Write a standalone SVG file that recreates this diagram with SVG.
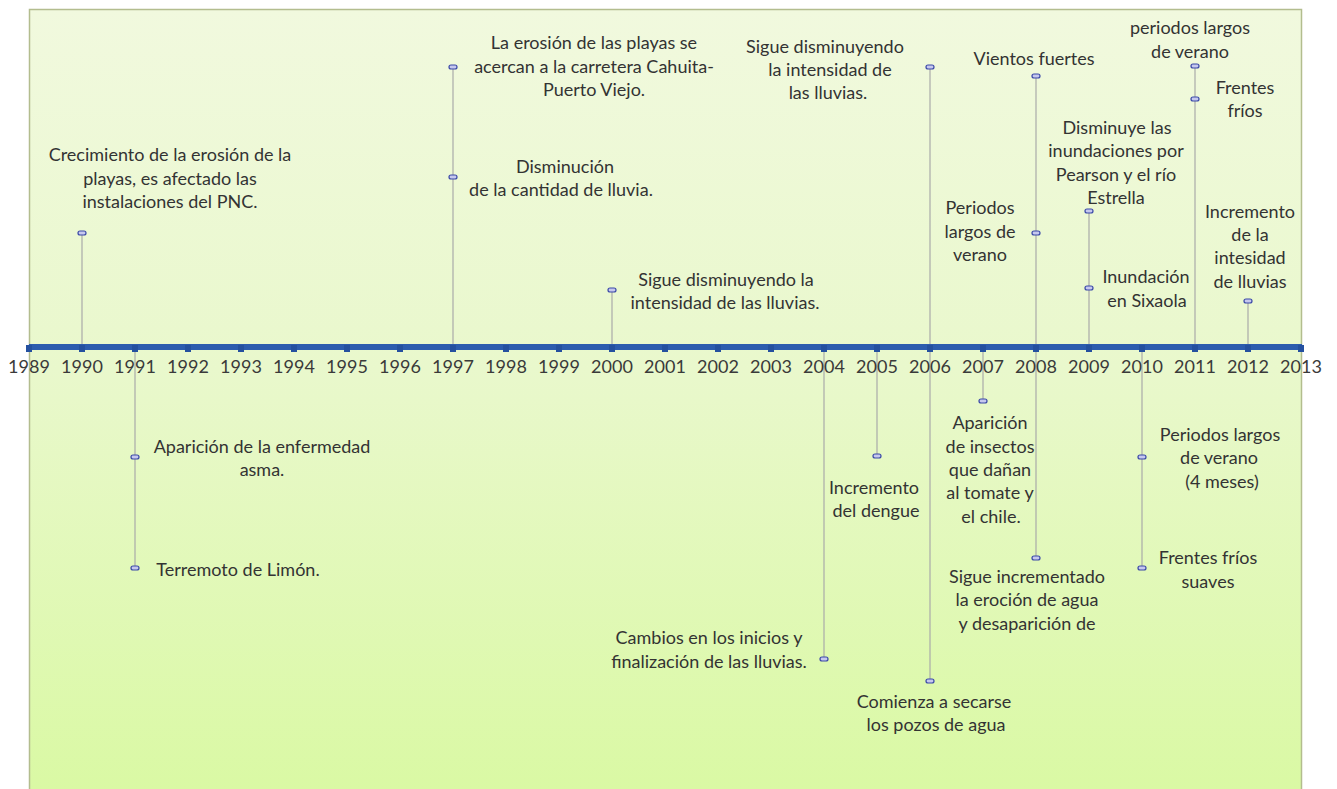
<svg xmlns="http://www.w3.org/2000/svg" width="1337" height="789" viewBox="0 0 1337 789">
<defs>
<linearGradient id="bg" x1="0" y1="0" x2="0" y2="1">
<stop offset="0" stop-color="#f1f9de"/>
<stop offset="0.45" stop-color="#e9f8cc"/>
<stop offset="1" stop-color="#d9f9a2"/>
</linearGradient>
<style>
text{font-family:Lato,"Liberation Sans",sans-serif;fill:#333333;}
.t{font-size:18px;text-anchor:middle;}
.y{font-size:18px;text-anchor:middle;fill:#3a3a3a;}
.mk{fill:#c6c8ee;stroke:#3a48a8;stroke-width:1.2;}
.ln{stroke:#a9aaa9;stroke-width:1.2;fill:none;}
.tk{fill:#24509f;}
</style>
</defs>
<rect x="0" y="0" width="1337" height="789" fill="#ffffff"/>
<rect x="29.5" y="9.5" width="1272" height="800" fill="url(#bg)" stroke="#b3bd8e" stroke-width="1.5"/>

<g id="connectors">
<line class="ln" x1="82" y1="233" x2="82" y2="347"/>
<line class="ln" x1="135" y1="347" x2="135" y2="568"/>
<line class="ln" x1="453" y1="67" x2="453" y2="347"/>
<line class="ln" x1="612" y1="290" x2="612" y2="347"/>
<line class="ln" x1="824" y1="347" x2="824" y2="659"/>
<line class="ln" x1="877" y1="347" x2="877" y2="456"/>
<line class="ln" x1="930" y1="67" x2="930" y2="681"/>
<line class="ln" x1="983" y1="347" x2="983" y2="401"/>
<line class="ln" x1="1036" y1="76" x2="1036" y2="558"/>
<line class="ln" x1="1089" y1="211" x2="1089" y2="347"/>
<line class="ln" x1="1142" y1="347" x2="1142" y2="568"/>
<line class="ln" x1="1195" y1="66" x2="1195" y2="347"/>
<line class="ln" x1="1248" y1="301" x2="1248" y2="347"/>
</g>

<g id="axis">
<rect x="29" y="344" width="1273" height="6" fill="#2c5cae"/>
<g class="tk">
<rect x="26" y="345" width="6" height="7"/><rect x="79" y="345" width="6" height="7"/><rect x="132" y="345" width="6" height="7"/><rect x="185" y="345" width="6" height="7"/><rect x="238" y="345" width="6" height="7"/><rect x="291" y="345" width="6" height="7"/><rect x="344" y="345" width="6" height="7"/><rect x="397" y="345" width="6" height="7"/><rect x="450" y="345" width="6" height="7"/><rect x="503" y="345" width="6" height="7"/><rect x="556" y="345" width="6" height="7"/><rect x="609" y="345" width="6" height="7"/><rect x="662" y="345" width="6" height="7"/><rect x="715" y="345" width="6" height="7"/><rect x="768" y="345" width="6" height="7"/><rect x="821" y="345" width="6" height="7"/><rect x="874" y="345" width="6" height="7"/><rect x="927" y="345" width="6" height="7"/><rect x="980" y="345" width="6" height="7"/><rect x="1033" y="345" width="6" height="7"/><rect x="1086" y="345" width="6" height="7"/><rect x="1139" y="345" width="6" height="7"/><rect x="1192" y="345" width="6" height="7"/><rect x="1245" y="345" width="6" height="7"/><rect x="1298" y="345" width="6" height="7"/>
</g>
<text class="y" x="29" y="373">1989</text><text class="y" x="82" y="373">1990</text><text class="y" x="135" y="373">1991</text><text class="y" x="188" y="373">1992</text><text class="y" x="241" y="373">1993</text><text class="y" x="294" y="373">1994</text><text class="y" x="347" y="373">1995</text><text class="y" x="400" y="373">1996</text><text class="y" x="453" y="373">1997</text><text class="y" x="506" y="373">1998</text><text class="y" x="559" y="373">1999</text><text class="y" x="612" y="373">2000</text><text class="y" x="665" y="373">2001</text><text class="y" x="718" y="373">2002</text><text class="y" x="771" y="373">2003</text><text class="y" x="824" y="373">2004</text><text class="y" x="877" y="373">2005</text><text class="y" x="930" y="373">2006</text><text class="y" x="983" y="373">2007</text><text class="y" x="1036" y="373">2008</text><text class="y" x="1089" y="373">2009</text><text class="y" x="1142" y="373">2010</text><text class="y" x="1195" y="373">2011</text><text class="y" x="1248" y="373">2012</text><text class="y" x="1301" y="373">2013</text>
</g>

<g id="e1990">
<rect class="mk" x="78" y="231" width="8" height="4" rx="2"/>
<text class="t" x="170" y="161">Crecimiento de la erosión de la</text>
<text class="t" x="170" y="185">playas, es afectado las</text>
<text class="t" x="170" y="208">instalaciones del PNC.</text>
</g>
<g id="e1991a">
<rect class="mk" x="131" y="455" width="8" height="4" rx="2"/>
<text class="t" x="262" y="453">Aparición de la enfermedad</text>
<text class="t" x="262" y="476">asma.</text>
</g>
<g id="e1991b">
<rect class="mk" x="131" y="566" width="8" height="4" rx="2"/>
<text class="t" x="238" y="576">Terremoto de Limón.</text>
</g>
<g id="e1997a">
<rect class="mk" x="449" y="65" width="8" height="4" rx="2"/>
<text class="t" x="594" y="49">La erosión de las playas se</text>
<text class="t" x="594" y="73">acercan a la carretera Cahuita-</text>
<text class="t" x="594" y="96">Puerto Viejo.</text>
</g>
<g id="e1997b">
<rect class="mk" x="449" y="175" width="8" height="4" rx="2"/>
<text class="t" x="565" y="173">Disminución</text>
<text class="t" x="561" y="196">de la cantidad de lluvia.</text>
</g>
<g id="e2000">
<rect class="mk" x="608" y="288" width="8" height="4" rx="2"/>
<text class="t" x="726" y="286">Sigue disminuyendo la</text>
<text class="t" x="725" y="309">intensidad de las lluvias.</text>
</g>
<g id="e2004">
<rect class="mk" x="820" y="657" width="8" height="4" rx="2"/>
<text class="t" x="709" y="644">Cambios en los inicios y</text>
<text class="t" x="709" y="668">finalización de las lluvias.</text>
</g>
<g id="e2005">
<rect class="mk" x="873" y="454" width="8" height="4" rx="2"/>
<text class="t" x="874" y="494">Incremento</text>
<text class="t" x="876" y="517">del dengue</text>
</g>
<g id="e2006a">
<rect class="mk" x="926" y="65" width="8" height="4" rx="2"/>
<text class="t" x="825" y="53">Sigue disminuyendo</text>
<text class="t" x="830" y="76">la intensidad de</text>
<text class="t" x="828" y="99">las lluvias.</text>
</g>
<g id="e2006b">
<rect class="mk" x="926" y="679" width="8" height="4" rx="2"/>
<text class="t" x="934" y="708">Comienza a secarse</text>
<text class="t" x="936" y="731">los pozos de agua</text>
</g>
<g id="e2007">
<rect class="mk" x="979" y="399" width="8" height="4" rx="2"/>
<text class="t" x="990" y="429">Aparición</text>
<text class="t" x="990" y="453">de insectos</text>
<text class="t" x="990" y="476">que dañan</text>
<text class="t" x="990" y="499">al tomate y</text>
<text class="t" x="991" y="523">el chile.</text>
</g>
<g id="e2008a">
<rect class="mk" x="1032" y="74" width="8" height="4" rx="2"/>
<text class="t" x="1034" y="65">Vientos fuertes</text>
</g>
<g id="e2008b">
<rect class="mk" x="1032" y="231" width="8" height="4" rx="2"/>
<text class="t" x="980" y="214">Periodos</text>
<text class="t" x="980" y="238">largos de</text>
<text class="t" x="980" y="261">verano</text>
</g>
<g id="e2008c">
<rect class="mk" x="1032" y="556" width="8" height="4" rx="2"/>
<text class="t" x="1027" y="583">Sigue incrementado</text>
<text class="t" x="1027" y="606">la eroción de agua</text>
<text class="t" x="1027" y="630">y desaparición de</text>
</g>
<g id="e2009a">
<rect class="mk" x="1085" y="209" width="8" height="4" rx="2"/>
<text class="t" x="1117" y="134">Disminuye las</text>
<text class="t" x="1116" y="157">inundaciones por</text>
<text class="t" x="1116" y="181">Pearson y el río</text>
<text class="t" x="1116" y="204">Estrella</text>
</g>
<g id="e2009b">
<rect class="mk" x="1085" y="286" width="8" height="4" rx="2"/>
<text class="t" x="1146" y="283">Inundación</text>
<text class="t" x="1147" y="307">en Sixaola</text>
</g>
<g id="e2010a">
<rect class="mk" x="1138" y="455" width="8" height="4" rx="2"/>
<text class="t" x="1220" y="441">Periodos largos</text>
<text class="t" x="1219" y="464">de verano</text>
<text class="t" x="1222" y="488">(4 meses)</text>
</g>
<g id="e2010b">
<rect class="mk" x="1138" y="566" width="8" height="4" rx="2"/>
<text class="t" x="1208" y="564">Frentes fríos</text>
<text class="t" x="1208" y="588">suaves</text>
</g>
<g id="e2011a">
<rect class="mk" x="1191" y="64" width="8" height="4" rx="2"/>
<text class="t" x="1190" y="34">periodos largos</text>
<text class="t" x="1190" y="58">de verano</text>
</g>
<g id="e2011b">
<rect class="mk" x="1191" y="97" width="8" height="4" rx="2"/>
<text class="t" x="1245" y="94">Frentes</text>
<text class="t" x="1245" y="117">fríos</text>
</g>
<g id="e2012">
<rect class="mk" x="1244" y="299" width="8" height="4" rx="2"/>
<text class="t" x="1250" y="218">Incremento</text>
<text class="t" x="1250" y="241">de la</text>
<text class="t" x="1250" y="264">intesidad</text>
<text class="t" x="1250" y="288">de lluvias</text>
</g>
</svg>
